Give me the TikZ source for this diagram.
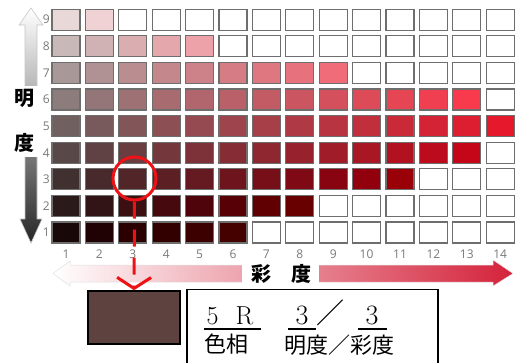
\documentclass[tikz,border=0pt]{standalone}
\usepackage{fontspec}
\newfontfamily\cjk{Noto Sans CJK JP}
\newfontfamily\numfont{Open Sans}
\usetikzlibrary{arrows.meta}
\definecolor{markred}{RGB}{236,18,22}
\definecolor{samplebrown}{RGB}{94,66,64}
\definecolor{cellline}{RGB}{110,110,110}
\definecolor{axisgray}{RGB}{120,120,120}
\definecolor{midpink}{RGB}{236,140,152}
\definecolor{deepred}{RGB}{212,34,58}
\tikzset{
  cell/.style={draw=cellline, line width=1.1pt, minimum width=28pt, minimum height=21pt, inner sep=0pt},
  axisnum/.style={font=\numfont\fontsize{12}{12}\selectfont, text=axisgray, inner sep=0pt},
  sidelabel/.style={font=\cjk\bfseries\fontsize{20}{20}\selectfont, inner sep=0pt},
  boxcjk/.style={font=\cjk\fontsize{22}{22}\selectfont, inner sep=0pt},
  fracbar/.style={line width=2pt},
}
\begin{document}
\begin{tikzpicture}[x=1pt,y=-1pt]
\useasboundingbox (0,0) rectangle (527,362);
% value arrow
\shade[top color=white, middle color=black!18, bottom color=black!85, draw=black!22, line width=0.6pt]
  (31,8) -- (43,25) -- (37,25) -- (37,219) -- (42,219) -- (31,243) -- (20,219) -- (25,219) -- (25,25) -- (19,25) -- cycle;
\fill[white] (10,86) rectangle (46,157);
\node[sidelabel] (ming) at (24,98) {明};
\node[sidelabel] (dua) at (24,143) {度};
% chroma arrow
\shade[left color=white, middle color=midpink, right color=deepred, draw=black!12, line width=0.5pt]
  (53,273.5) -- (70,261) -- (70,265) -- (493,265) -- (493,260) -- (513,273.5) -- (493,286) -- (493,282) -- (70,282) -- (70,286) -- cycle;
\fill[white] (242,259) rectangle (319,289);
\node[sidelabel] (sai) at (281,274) {彩　度};
% colour grid
\foreach \v/\g/\cm in {1/24/6,2/42/8,3/64/11,4/88/13,5/112/14,6/140/13,7/168/9,8/200/5,9/232/2}{
  \foreach \c in {1,...,14}{
    \pgfmathsetmacro\cx{66+(\c-1)*33.4}
    \pgfmathsetmacro\cy{232.5-(\v-1)*26.6}
    \ifnum\c>\cm
      \node[cell, fill=white] (cell-\v-\c) at (\cx,\cy) {};
    \else
      \pgfmathtruncatemacro\R{min(255,max(0,\g+9*(\c-1)))}
      \pgfmathtruncatemacro\G{min(255,max(0,\g-16-5.5*(\c-1)))}
      \pgfmathtruncatemacro\B{min(255,max(0,\g-16-4*(\c-1)))}
      \definecolor{cellfill}{RGB}{\R,\G,\B}
      \node[cell, fill=cellfill] (cell-\v-\c) at (\cx,\cy) {};
    \fi
  }
  \pgfmathsetmacro\cy{232.5-(\v-1)*26.6}
  \node[axisnum, anchor=east] (row-\v) at (50,\cy) {\v};
}
\foreach \c in {1,...,14}{
  \pgfmathsetmacro\cx{66+(\c-1)*33.4}
  \node[axisnum] (col-\c) at (\cx,254) {\c};
}
% marker
\node[circle, draw=markred, line width=3pt, minimum size=43pt, inner sep=0pt] (circ) at (134.5,178.5) {};
\node[draw=black, line width=1.6pt, fill=samplebrown, minimum width=92pt, minimum height=53pt, inner sep=0pt] (sample) at (134,317.5) {};
\draw[markred, line width=3pt, dash pattern=on 17pt off 11pt, -{Straight Barb[length=11pt,width=34pt]}] (circ.south) -- (sample.north);
% notation box
\draw[line width=1.2pt] (187,372) -- (187,289.5) -- (438,289.5) -- (438,372);
\node[font=\fontsize{26}{26}\selectfont, anchor=base, inner sep=0pt] (fiveR) at (230,324) {5\hspace{0.65em}R};
\draw[fracbar] (204,329) -- (261,329);
\node[boxcjk] (hue) at (226,344) {色相};
\node[font=\fontsize{28}{28}\selectfont, anchor=base, inner sep=0pt] (val) at (302,324.5) {3};
\draw[fracbar] (288,329) -- (316,329);
\node[font=\cjk\fontsize{28}{28}\selectfont, inner sep=0pt] (slash) at (330,313) {／};
\node[font=\fontsize{28}{28}\selectfont, anchor=base, inner sep=0pt] (chr) at (372,324.5) {3};
\draw[fracbar] (358,329) -- (387,329);
\node[boxcjk] (vc) at (339.5,345) {明度／彩度};
\end{tikzpicture}
\end{document}
